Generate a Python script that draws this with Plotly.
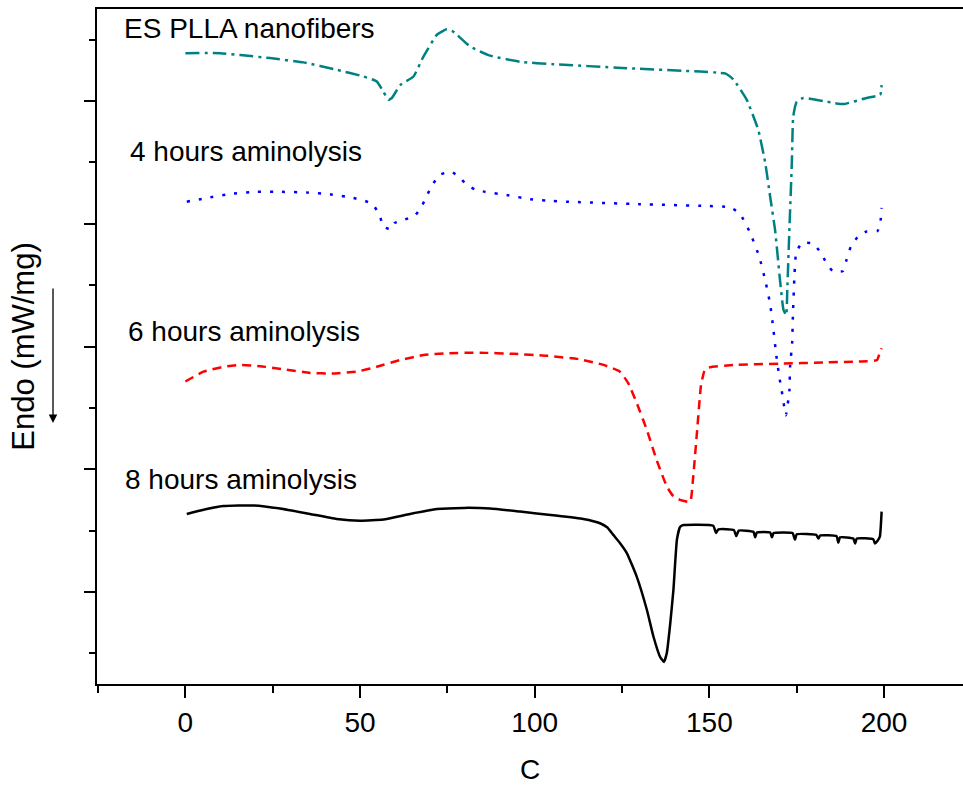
import plotly.graph_objects as go

# ---- data (temperature in C, heat flow in arbitrary offset units) ----
es_T = [0, 10, 15.7, 24.2, 33.8, 43.3, 51, 54.8, 56.7, 58.1, 59.1, 61.5, 65.3, 68.1, 72, 74.8, 76.7,
        81.5, 87.2, 95.8, 105.3, 125, 147.4, 153, 154.5, 156.9, 160.7, 164, 166, 167.4, 168.8, 170.2,
        171.2, 172, 172.3, 172.9, 173.6, 174, 175, 176.9, 185.5, 188.4, 195, 198.9, 199.3]
es_v = [9.78, 9.78, 9.75, 9.70, 9.63, 9.51, 9.40, 9.32, 9.15, 9.02, 9.05, 9.26, 9.40, 9.72, 10.08, 10.17, 10.13,
        9.89, 9.74, 9.64, 9.60, 9.54, 9.48, 9.46, 9.45, 9.35, 9.02, 8.53, 7.99, 7.44, 6.90, 6.09,
        5.60, 5.51, 5.92, 6.90, 7.99, 8.75, 8.99, 9.05, 8.97, 8.95, 9.05, 9.10, 9.26]

h4_T = [0.4, 7.1, 13.3, 20.4, 27.6, 34.7, 41.4, 48.1, 51, 53.6, 55.6, 56.7, 58.8, 59.8, 62.9, 65.8, 67.7,
        69.3, 71, 72.9, 76.1, 78.4, 80.5, 82.9, 85.8, 92, 98.7, 105.3, 109, 130, 149.2, 155.9, 158.8,
        161.6, 164.3, 166.1, 167.4, 168.3, 169.1, 170, 170.7, 171.9, 172.9, 173.1, 173.7, 173.9, 174.3,
        174.8, 176.4, 179.6, 181.9, 183.4, 185.3, 188.2, 189.3, 190.5, 192.4, 194.8, 198.1, 199, 199.3]
h4_v = [7.36, 7.43, 7.49, 7.52, 7.52, 7.51, 7.48, 7.42, 7.38, 7.32, 7.14, 6.95, 6.91, 7.01, 7.07, 7.14, 7.29,
        7.48, 7.66, 7.80, 7.85, 7.76, 7.64, 7.56, 7.52, 7.47, 7.40, 7.37, 7.36, 7.32, 7.29, 7.27, 7.16,
        6.86, 6.46, 6.05, 5.69, 5.29, 4.88, 4.51, 4.28, 3.88, 4.28, 4.67, 5.07, 5.49, 6.09,
        6.51, 6.69, 6.68, 6.53, 6.37, 6.23, 6.23, 6.42, 6.63, 6.78, 6.87, 6.88, 7.05, 7.26]

h6_T = [0, 5.2, 10.9, 15.7, 21.4, 28, 35.7, 42.4, 49.1, 54.8, 61.5, 68.2, 74.8, 84.4, 93.9, 103.4, 113,
        119.7, 124.4, 126.8, 129.2, 132.1, 134.9, 137.8, 139.4, 141.6, 144.5, 145.3, 146.5, 147.6,
        148.5, 149.2, 156.9, 170.2, 182.6, 195, 198, 198.9, 199.3]
h6_v = [4.43, 4.59, 4.67, 4.70, 4.68, 4.63, 4.57, 4.56, 4.59, 4.67, 4.78, 4.86, 4.89, 4.90, 4.88, 4.85, 4.79,
        4.70, 4.59, 4.40, 4.08, 3.64, 3.15, 2.72, 2.58, 2.50, 2.47, 2.83, 3.64, 4.37,
        4.59, 4.65, 4.70, 4.72, 4.74, 4.76, 4.78, 4.92, 4.97]

h8_T = [0.4, 5.2, 10.9, 19.5, 27.1, 35.7, 43.3, 50, 56.7, 64.3, 72, 79.6, 87.2, 95.8, 105.3, 113.9,
        118.7, 120.8, 122.5, 124.5, 126.4, 129.2, 132.1, 134, 135.9, 137, 137.8, 138.8, 139.7, 140.7, 141.6, 142.6,
        151.1, 151.9, 152.6, 157, 157.7, 158.4, 162.6, 163.1, 163.6, 167.4, 167.9, 168.4, 173.8, 174.5,
        175, 180.6, 181.2, 181.7, 186.4, 186.9, 187.4, 191.2, 191.7, 192.2, 196.9, 197.4, 198.1, 198.8, 199.3]
h8_v = [2.27, 2.34, 2.40, 2.41, 2.36, 2.27, 2.19, 2.16, 2.18, 2.27, 2.35, 2.37, 2.36, 2.31, 2.25, 2.19,
        2.12, 2.05, 1.93, 1.79, 1.63, 1.25, 0.71, 0.27, -0.06, -0.14, 0.00, 0.49, 1.03, 1.85, 2.06, 2.09,
        2.08, 1.96, 2.02, 2.01, 1.91, 2.00, 1.98, 1.89, 1.97, 1.97, 1.89, 1.96, 1.96, 1.85,
        1.94, 1.93, 1.87, 1.92, 1.91, 1.80, 1.89, 1.87, 1.79, 1.87, 1.86, 1.79, 1.83, 1.90, 2.31]

labels = ["ES PLLA nanofibers", "4 hours aminolysis", "6 hours aminolysis", "8 hours aminolysis"]
label_T = [-18.1, -16.4, -17.0, -17.8]
label_v = [10.19, 8.17, 5.24, 2.83]

x_major = [0, 50, 100, 150, 200]
x_minor = [-25, 25, 75, 125, 175]
y_major = [1, 3, 5, 7, 9]
y_minor = [0, 2, 4, 6, 8, 10]

FONT = "Liberation Sans, Arial, sans-serif"

fig = go.Figure()
fig.add_trace(go.Scatter(x=es_T, y=es_v, mode="lines",
                         line=dict(color="#008080", width=2.5, dash="14px,5px,3px,5px", shape="spline", smoothing=0.4)))
fig.add_trace(go.Scatter(x=h4_T, y=h4_v, mode="lines",
                         line=dict(color="#0000ff", width=2.5, dash="3px,9px", shape="spline", smoothing=0.4)))
fig.add_trace(go.Scatter(x=h6_T, y=h6_v, mode="lines",
                         line=dict(color="#ff0000", width=2.5, dash="9px,6px", shape="spline", smoothing=0.4)))
fig.add_trace(go.Scatter(x=h8_T, y=h8_v, mode="lines",
                         line=dict(color="#000000", width=2.5, shape="spline", smoothing=0.4)))

for t, xv, yv in zip(labels, label_T, label_v):
    fig.add_annotation(x=xv, y=yv, text=t, showarrow=False, xanchor="left", yanchor="middle",
                       font=dict(family=FONT, size=28, color="black"))

# downward arrow next to the y title
fig.add_annotation(xref="paper", yref="paper", x=-0.0508, y=0.3867, ax=0, ay=-136,
                   showarrow=True, arrowhead=2, arrowsize=1.3, arrowwidth=1.3, arrowcolor="black", text="")

fig.update_layout(
    width=963, height=785,
    margin=dict(l=97, r=0, t=9, b=101),
    paper_bgcolor="white", plot_bgcolor="white",
    showlegend=False,
    font=dict(family=FONT, color="black"),
    xaxis=dict(range=[-25.3, 222.6], showline=True, linecolor="black", linewidth=2, mirror=True,
               showgrid=False, zeroline=False, ticks="outside", ticklen=12, tickwidth=2, tickcolor="black",
               tickvals=x_major, tickfont=dict(size=28, family=FONT, color="black"),
               minor=dict(tickvals=x_minor, ticks="outside", ticklen=7, tickwidth=2, tickcolor="black"),
               title=dict(text="C", font=dict(size=28, family=FONT, color="black"), standoff=26)),
    yaxis=dict(range=[-0.5, 10.5], showline=True, linecolor="black", linewidth=2, mirror=False,
               showgrid=False, zeroline=False, ticks="outside", ticklen=11, tickwidth=2, tickcolor="black",
               tickvals=y_major, showticklabels=False,
               minor=dict(tickvals=y_minor, ticks="outside", ticklen=6, tickwidth=2, tickcolor="black"),
               title=dict(text="Endo (mW/mg)", font=dict(size=31, family=FONT, color="black"), standoff=40)),
)

fig.write_html("out.html", config={"displayModeBar": False},
               post_script="document.body.style.margin='0';document.body.style.overflow='hidden';")
